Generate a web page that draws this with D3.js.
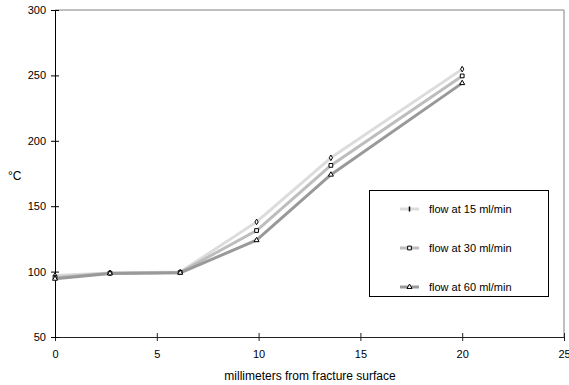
<!DOCTYPE html>
<html>
<head>
<meta charset="utf-8">
<script src="https://cdn.jsdelivr.net/npm/d3@7"></script>
<style>
  body { margin: 0; background: #fff; }
  text { font-family: "Liberation Sans", Arial, sans-serif; }
</style>
</head>
<body>
<div id="chart"></div>
<script>
// distances from the fracture surface (mm)
const distances = [0, 2.7, 6.15, 9.9, 13.55, 20];

// temperatures (°C) for each flow rate
const flow15 = [97, 99, 99.6, 138, 187, 254.8];
const flow30 = [95.5, 98.8, 99.4, 131.4, 181.2, 249.6];
const flow60 = [94.5, 98.6, 99.1, 124, 174.1, 244.1];

const seriesNames = ["flow at 15 ml/min", "flow at 30 ml/min", "flow at 60 ml/min"];
const xTicks = [0, 5, 10, 15, 20, 25];
const yTicks = [50, 100, 150, 200, 250, 300];

const width = 569, height = 385;
const margin = { top: 10, right: 5, bottom: 48, left: 55 };

const svg = d3.select("#chart")
    .append("svg")
    .attr("width", width)
    .attr("height", height);

// scales
const xScale = d3.scaleLinear()
    .domain([0, 25])
    .range([margin.left, width - margin.right]);

const yScale = d3.scaleLinear()
    .domain([50, 300])
    .range([height - margin.bottom, margin.top]);

// plot area border (top and right in gray)
svg.append("path")
    .attr("d", `M${xScale(0)},${yScale(300)}H${xScale(25)}V${yScale(50)}`)
    .attr("fill", "none")
    .attr("stroke", "#808080")
    .attr("stroke-width", 1);

// x axis
const xAxis = svg.append("g")
    .attr("transform", `translate(0, ${yScale(50)})`)
    .call(d3.axisBottom(xScale).tickValues(xTicks).tickSize(0).tickPadding(13));
xAxis.select(".domain").attr("stroke", "#222");
xAxis.selectAll(".tick line")
    .attr("y1", -4).attr("y2", 4).attr("stroke", "#222");
xAxis.selectAll("text").attr("font-size", 11).attr("fill", "#000");

// y axis
const yAxis = svg.append("g")
    .attr("transform", `translate(${xScale(0)}, 0)`)
    .call(d3.axisLeft(yScale).tickValues(yTicks).tickSize(0).tickPadding(9));
yAxis.select(".domain").attr("stroke", "#000");
yAxis.selectAll(".tick line")
    .attr("x1", -4).attr("x2", 4).attr("stroke", "#000");
yAxis.selectAll("text").attr("font-size", 11).attr("fill", "#000");

// axis titles
svg.append("text")
    .attr("x", 310)
    .attr("y", 380)
    .attr("text-anchor", "middle")
    .attr("font-size", 12)
    .text("millimeters from fracture surface");

svg.append("text")
    .attr("x", 8)
    .attr("y", 180)
    .attr("font-size", 12)
    .text("°C");

// series
const series = [
    { name: seriesNames[0], values: flow15, color: "#dcdcdc", marker: d3.symbolDiamond, size: 9 },
    { name: seriesNames[1], values: flow30, color: "#bdbdbd", marker: d3.symbolSquare, size: 14 },
    { name: seriesNames[2], values: flow60, color: "#999999", marker: d3.symbolTriangle, size: 11 }
];

const line = d3.line()
    .x((d, i) => xScale(distances[i]))
    .y(d => yScale(d));

series.forEach(s => {
    svg.append("path")
        .datum(s.values)
        .attr("d", line)
        .attr("fill", "none")
        .attr("stroke", s.color)
        .attr("stroke-width", 3)
        .attr("stroke-linejoin", "round");
});

series.forEach(s => {
    svg.selectAll(null)
        .data(s.values)
        .enter().append("path")
        .attr("transform", (d, i) => `translate(${xScale(distances[i])}, ${yScale(d)})`)
        .attr("d", d3.symbol().type(s.marker).size(s.size))
        .attr("fill", "#fff")
        .attr("stroke", "#000")
        .attr("stroke-width", 1);
});

// legend
const legend = svg.append("g");
legend.append("rect")
    .attr("x", 369.5)
    .attr("y", 190.5)
    .attr("width", 179)
    .attr("height", 106)
    .attr("fill", "#fff")
    .attr("stroke", "#000");

const rowY = [209, 248, 287];
series.forEach((s, i) => {
    legend.append("line")
        .attr("x1", 400).attr("x2", 419)
        .attr("y1", rowY[i]).attr("y2", rowY[i])
        .attr("stroke", s.color)
        .attr("stroke-width", 3);
    if (i === 0) {
        // the 15 ml/min marker shows as a short vertical tick
        legend.append("line")
            .attr("x1", 409.5).attr("x2", 409.5)
            .attr("y1", rowY[i] - 2.5).attr("y2", rowY[i] + 2.5)
            .attr("stroke", "#000")
            .attr("stroke-width", 1.5);
    } else {
        legend.append("path")
            .attr("transform", `translate(409.5, ${rowY[i]})`)
            .attr("d", d3.symbol().type(s.marker).size(s.size))
            .attr("fill", "#fff")
            .attr("stroke", "#000");
    }
    legend.append("text")
        .attr("x", 429)
        .attr("y", rowY[i] + 4)
        .attr("font-size", 11)
        .text(s.name);
});
</script>
</body>
</html>
